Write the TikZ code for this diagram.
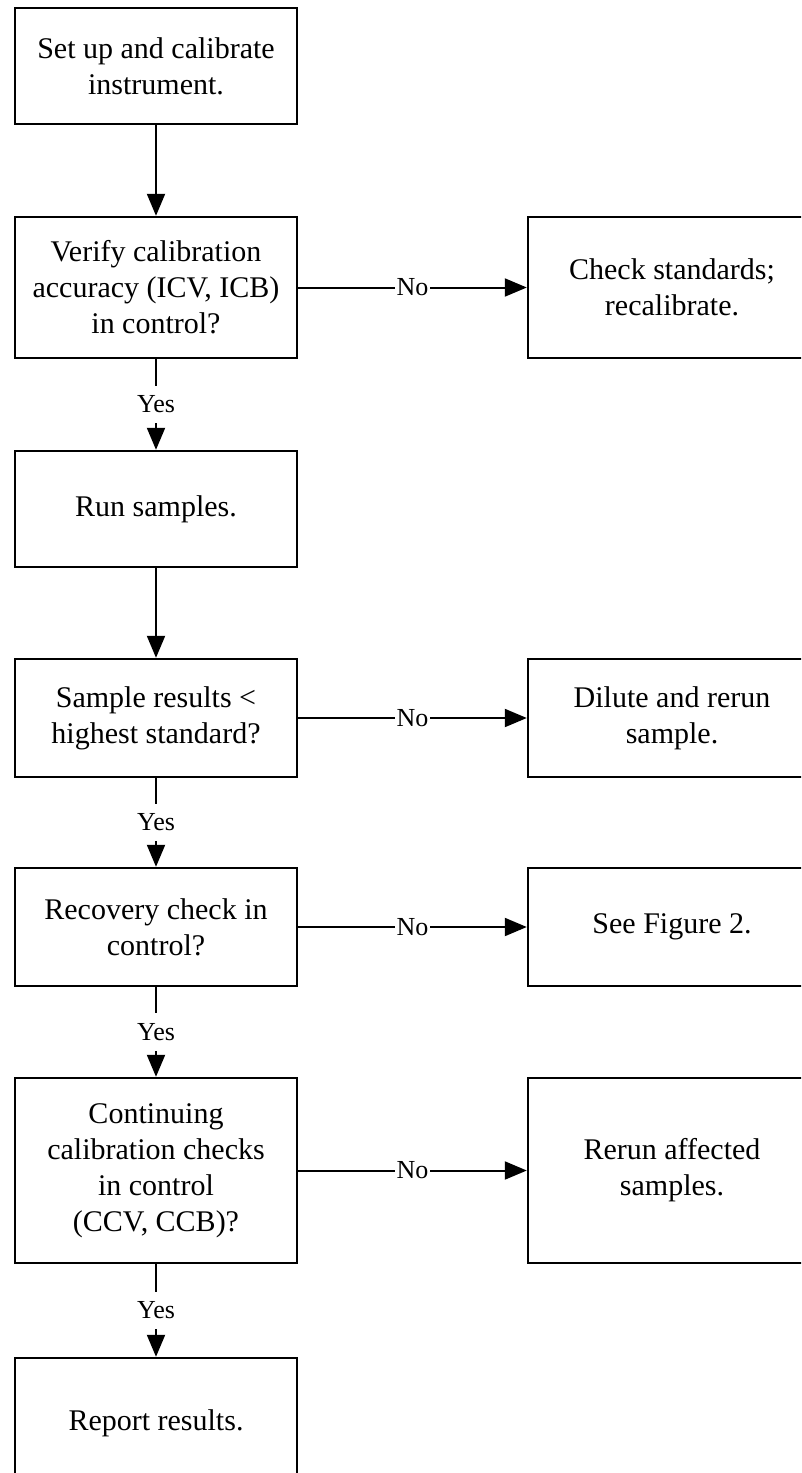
\documentclass[tikz,border=0pt]{standalone}
\usepackage{fontspec}
\setmainfont{Liberation Serif}
\usetikzlibrary{arrows.meta}
\begin{document}
\begin{tikzpicture}[x=1pt,y=-1pt,
  box/.style={draw, line width=2.4pt, align=center, inner sep=0pt,
    font=\fontsize{30}{36}\selectfont},
  lbox/.style={box, minimum width=282pt},
  rbox/.style={box, minimum width=288pt},
  flow/.style={line width=2pt, -{Triangle[length=22pt,width=18pt]}},
  lbl/.style={fill=white, inner xsep=2pt, inner ysep=10pt,
    font=\fontsize{26}{30}\selectfont}]
\useasboundingbox (0,0) rectangle (801,1473);
\fill[white] (0,0) rectangle (801,1473);
\clip (0,0) rectangle (801,1473);

% main column of steps
\node[lbox, minimum height=116pt] (setup)  at (156,66)     {Set up and calibrate\\instrument.};
\node[lbox, minimum height=141pt] (verify) at (156,287.5)  {Verify calibration\\accuracy (ICV, ICB)\\in control?};
\node[lbox, minimum height=116pt] (run)    at (156,509)    {Run samples.};
\node[lbox, minimum height=118pt] (high)   at (156,718)    {Sample results <\\highest standard?};
\node[lbox, minimum height=118pt] (recov)  at (156,927)    {Recovery check in\\control?};
\node[lbox, minimum height=185pt] (ccal)   at (156,1170.5) {Continuing\\calibration checks\\in control\\(CCV, CCB)?};
\node[lbox, minimum height=130pt] (report) at (156,1423)   {Report results.};

% corrective actions
\node[rbox, minimum height=141pt] (recal)  at (672,287.5)  {Check standards;\\recalibrate.};
\node[rbox, minimum height=118pt] (dilute) at (672,718)    {Dilute and rerun\\sample.};
\node[rbox, minimum height=118pt] (fig2)   at (672,927)    {See Figure 2.};
\node[rbox, minimum height=185pt] (rerun)  at (672,1170.5) {Rerun affected\\samples.};

% connectors
\draw[flow] (setup) -- (verify);
\draw[flow] (verify) -- node[lbl] {Yes} (run);
\draw[flow] (run) -- (high);
\draw[flow] (high) -- node[lbl] {Yes} (recov);
\draw[flow] (recov) -- node[lbl] {Yes} (ccal);
\draw[flow] (ccal) -- node[lbl] {Yes} (report);

\draw[flow] (verify) -- node[lbl, inner ysep=2pt] {No} (recal);
\draw[flow] (high) -- node[lbl, inner ysep=2pt] {No} (dilute);
\draw[flow] (recov) -- node[lbl, inner ysep=2pt] {No} (fig2);
\draw[flow] (ccal) -- node[lbl, inner ysep=2pt] {No} (rerun);
\end{tikzpicture}
\end{document}
